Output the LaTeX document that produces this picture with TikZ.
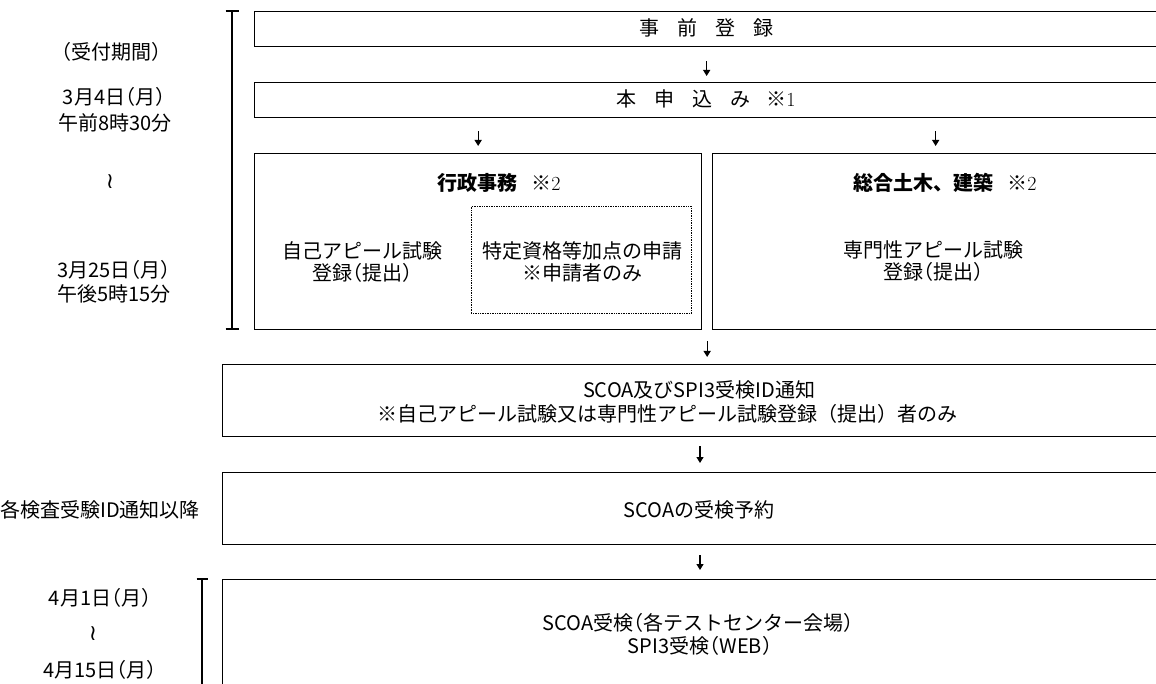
\documentclass[tikz,border=0pt]{standalone}
\usepackage{fontspec}
\newfontfamily\jp{Noto Sans CJK JP}
\newfontfamily\jph{Noto Sans CJK JP}[RawFeature=+halt]
\newfontfamily\dv{DejaVu Sans}
\newcommand\lpar{{\jph （}}
\newcommand\rpar{{\jph ）}}
\usetikzlibrary{arrows.meta,calc}
\tikzset{
  box/.style={draw, line width=1.3pt, anchor=north west, inner sep=0pt, minimum width=936pt},
  dotbox/.style={draw, densely dotted, line width=0.7pt, anchor=north west, inner sep=0pt},
  txt/.style={font=\jp\fontsize{20}{22}\selectfont, align=center, inner sep=0pt},
  thin/.style={font=\jp\fontsize{20}{22}\selectfont, align=center, inner sep=0pt},
  arr/.style={line width=1.3pt, -{Triangle[length=6pt,width=7pt]}},
  brk/.style={line width=1.2pt},
  wave/.style={font=\dv\fontsize{22}{22}\selectfont, inner sep=0pt}
}
\begin{document}
\begin{tikzpicture}[x=1pt,y=-1pt]
\useasboundingbox (0,0) rectangle (1156,684);
\clip (0,0) rectangle (1156,684);
% boxes
\node[box, minimum width=904pt, minimum height=35pt] (b1) at (254,11) {};
\node[box, minimum width=904pt, minimum height=35pt] (b2) at (254,82) {};
\node[box, minimum width=447pt, minimum height=176pt] (L) at (254,153) {};
\node[box, minimum width=446pt, minimum height=176pt] (R) at (712,153) {};
\node[dotbox, minimum width=220pt, minimum height=107pt] (D) at (471,206) {};
\node[box, minimum height=72pt] (S1) at (222,364) {};
\node[box, minimum height=72pt] (S2) at (222,472) {};
\node[box, minimum height=150pt] (S3) at (222,579) {};
% brackets
\coordinate (t1) at (232,11);
\coordinate (t2) at (232,329);
\draw[brk] (t1) -- (t2);
\draw[brk] ([xshift=-6.5pt]t1) -- ([xshift=6.5pt]t1);
\draw[brk] ([xshift=-6.5pt]t2) -- ([xshift=6.5pt]t2);
\coordinate (u1) at (202,579);
\coordinate (u2) at (202,700);
\draw[brk] (u1) -- (u2);
\draw[brk] ([xshift=-5.5pt]u1) -- ([xshift=6pt]u1);
% arrows
\draw[arr, shorten <=14pt, shorten >=6pt] (b1.south) -- (b2.north);
\draw[arr, shorten <=13pt, shorten >=7pt] (b2.south -| L.north) -- (L.north);
\draw[arr, shorten <=13pt, shorten >=7pt] (b2.south -| R.north) -- (R.north);
\coordinate (gap) at ($(L.south east)!0.5!(R.south west)$);
\draw[arr, shorten <=11pt, shorten >=7pt] (gap) -- (gap |- S1.north);
\draw[arr, shorten <=9pt, shorten >=9pt] (S1.south -| 700,0) -- (S2.north -| 700,0);
\draw[arr, shorten <=10pt, shorten >=9pt] (S2.south -| 700,0) -- (S3.north -| 700,0);
% box texts
\node[txt] (tb1) at (706,28) {事\hskip18pt 前\hskip18pt 登\hskip18pt 録};
\node[txt] (tb2) at (706,99) {本\hskip18pt 申\hskip18pt 込\hskip18pt み\hskip16pt ※{\rmfamily 1}};
\node[txt] (tL) at (499,183) {{\bfseries 行政事務}\hskip14pt ※{\rmfamily 2}};
\node[txt] (tR) at (945,183) {{\bfseries 総合土木、建築}\hskip14pt ※{\rmfamily 2}};
\node[txt] (tL1) at (362,262) {自己アピール試験\\登録\lpar 提出\rpar};
\node[txt] (tD) at (582,262) {特定資格等加点の申請\\※申請者のみ};
\node[txt] (tR1) at (933,261) {専門性アピール試験\\登録\lpar 提出\rpar};
\node[txt] (tS1a) at (699,390) {SCOA及びSPI3受検ID通知};
\node[thin] (tS1b) at (667,414) {※自己アピール試験又は専門性アピール試験登録（提出）者のみ};
\node[txt] (tS2) at (699,510) {SCOAの受検予約};
\node[txt] (tS3a) at (698,623) {SCOA受検\lpar 各テストセンター会場\rpar};
\node[txt] (tS3b) at (700,646) {SPI3受検\lpar WEB\rpar};
% left labels
\node[txt] (l0) at (111,52) {（受付期間）};
\node[txt] (l1) at (114,97) {3月4日\lpar 月\rpar};
\node[txt] (l2) at (115,123) {午前8時30分};
\node[wave] (l3) at (110,182) {≀};
\node[txt] (l4) at (114,270) {3月25日\lpar 月\rpar};
\node[txt] (l5) at (114,294) {午後5時15分};
\node[txt] (l6) at (100,510) {各検査受験ID通知以降};
\node[txt] (l7) at (100,598) {4月1日\lpar 月\rpar};
\node[wave] (l8) at (93,634) {≀};
\node[txt] (l9) at (100,670) {4月15日\lpar 月\rpar};
\end{tikzpicture}
\end{document}
